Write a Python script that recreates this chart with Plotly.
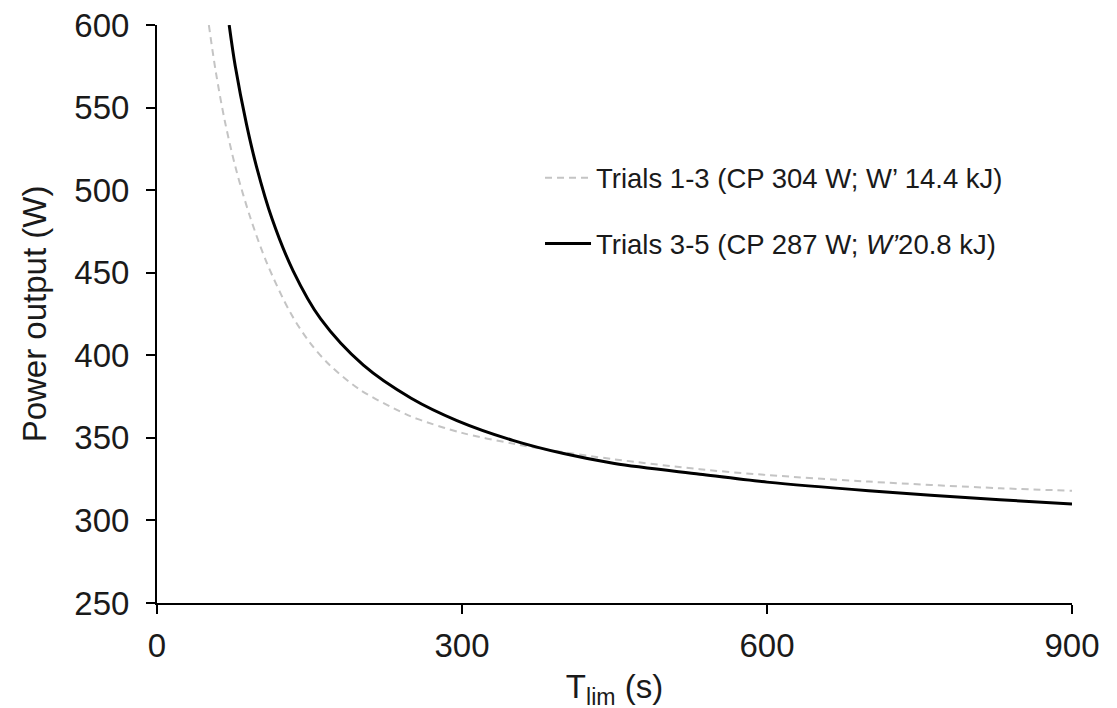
import plotly.graph_objects as go

# Trials 1-3 (dashed grey)
t_13 = [51, 58, 67, 78, 92, 108, 131, 150, 170, 200, 239, 256, 300, 350, 387, 450, 534, 600, 700, 829, 900]
p_13 = [600, 571, 541, 512, 483, 456, 426, 408, 394, 379, 366, 361.5, 353, 346.5, 342.5, 337, 331, 327.5, 323.5, 319.5, 318]

# Trials 3-5 (solid black)
t_35 = [71, 77, 88, 98, 113, 134, 161, 203, 250, 295, 350, 400, 450, 534, 600, 700, 829, 900]
p_35 = [600, 575, 540, 514, 483, 451, 422, 394, 374, 360.5, 348.5, 340.5, 334.5, 328, 323.2, 318, 312.5, 310]

name_13 = "Trials 1-3 (CP 304 W; W’ 14.4 kJ)"
name_35 = "Trials 3-5 (CP 287 W; <i>W’</i>20.8 kJ)"

x_ticks = [0, 300, 600, 900]
y_ticks = [250, 300, 350, 400, 450, 500, 550, 600]

fig = go.Figure()
fig.add_trace(go.Scatter(x=t_13, y=p_13, mode="lines", name=name_13, legendgroup="a",
                         line=dict(color="#c4c4c4", width=2, dash="7px,5px", shape="spline",
                                   smoothing=0.9)))
fig.add_trace(go.Scatter(x=t_35, y=p_35, mode="lines", name=name_35, legendgroup="b",
                         line=dict(color="black", width=3, shape="spline", smoothing=0.9)))

font = "Liberation Sans, Arial, sans-serif"
fig.update_layout(
    width=1117, height=708,
    margin=dict(l=149, r=53, t=17, b=113),
    paper_bgcolor="white", plot_bgcolor="white",
    font=dict(family=font, size=33, color="#1a1a1a"),
    showlegend=True,
    legend=dict(x=0.4186, y=0.778, xanchor="left", yanchor="top", bgcolor="rgba(0,0,0,0)",
                font=dict(size=27.5, color="#1a1a1a"), tracegroupgap=27, itemwidth=46),
    xaxis=dict(range=[0, 900], tickvals=x_ticks, ticks="outside", ticklen=9, tickwidth=2,
               tickcolor="black", showline=True, linecolor="black", linewidth=2,
               tickfont=dict(size=33), automargin=False, ticklabelstandoff=3,
               ticklabeloverflow="allow",
               showgrid=False, zeroline=False,
               title=dict(text="T<sub>lim</sub> (s)", standoff=12, font=dict(size=33))),
    yaxis=dict(range=[250, 600], tickvals=y_ticks, ticks="outside", ticklen=9, tickwidth=2,
               tickcolor="black", showline=True, linecolor="black", linewidth=2,
               tickfont=dict(size=33), automargin=False, ticklabelstandoff=10,
               ticklabeloverflow="allow",
               showgrid=False, zeroline=False,
               title=dict(text="Power output (W)", standoff=18, font=dict(size=33))),
)

fig.write_html("out.html")
